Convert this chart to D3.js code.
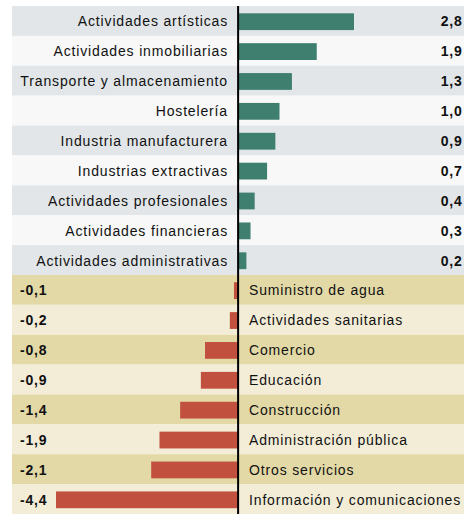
<!DOCTYPE html>
<html>
<head>
<meta charset="utf-8">
<script src="https://cdn.jsdelivr.net/npm/d3@7"></script>
<style>
  body { margin: 0; background: #fff; }
  text { font-family: "Liberation Sans", Arial, sans-serif; }
</style>
</head>
<body>
<script>
// sectors, top to bottom
const categories = [
  'Actividades artísticas',
  'Actividades inmobiliarias',
  'Transporte y almacenamiento',
  'Hostelería',
  'Industria manufacturera',
  'Industrias extractivas',
  'Actividades profesionales',
  'Actividades financieras',
  'Actividades administrativas',
  'Suministro de agua',
  'Actividades sanitarias',
  'Comercio',
  'Educación',
  'Construcción',
  'Administración pública',
  'Otros servicios',
  'Información y comunicaciones'
];
const values = [2.8, 1.9, 1.3, 1.0, 0.9, 0.7, 0.4, 0.3, 0.2,
  -0.1, -0.2, -0.8, -0.9, -1.4, -1.9, -2.1, -4.4];
const valueLabels = ['2,8', '1,9', '1,3', '1,0', '0,9', '0,7', '0,4', '0,3', '0,2',
  '-0,1', '-0,2', '-0,8', '-0,9', '-1,4', '-1,9', '-2,1', '-4,4'];

const width = 464;
const height = 514;

const data = categories.map((c, i) => ({ name: c, value: values[i], label: valueLabels[i], i: i }));

const svg = d3.select('body').append('svg')
  .attr('width', width)
  .attr('height', height);

const x = d3.scaleLinear()
  .domain([d3.min(values), d3.max(values)])
  .range([56, 354]);

const y = d3.scaleBand()
  .domain(categories)
  .range([6, 514])
  .padding(0);

// row backgrounds, alternating
function rowColor(d) {
  if (d.value >= 0) return d.i % 2 === 0 ? '#e2e6e8' : '#f7f8f7';
  return d.i % 2 === 1 ? '#e3d9a6' : '#f3edd8';
}

svg.selectAll('.row')
  .data(data)
  .enter().append('rect')
  .attr('class', 'row')
  .attr('x', 12)
  .attr('y', d => y(d.name))
  .attr('width', width - 12)
  .attr('height', y.bandwidth())
  .attr('fill', rowColor);

// bars
svg.selectAll('.bar')
  .data(data)
  .enter().append('rect')
  .attr('class', 'bar')
  .attr('x', d => x(Math.min(0, d.value)))
  .attr('y', d => y(d.name) + 7.3)
  .attr('width', d => Math.abs(x(d.value) - x(0)))
  .attr('height', 16.8)
  .attr('fill', d => d.value >= 0 ? '#3e7f6f' : '#c1513e');

// sector names
svg.selectAll('.name')
  .data(data)
  .enter().append('text')
  .attr('class', 'name')
  .attr('x', d => d.value >= 0 ? 228 : 249)
  .attr('y', d => y(d.name) + y.bandwidth() / 2 + 5.5)
  .attr('text-anchor', d => d.value >= 0 ? 'end' : 'start')
  .style('font-size', '14px')
  .style('letter-spacing', '0.85px')
  .attr('fill', '#111')
  .text(d => d.name);

// value labels
svg.selectAll('.val')
  .data(data)
  .enter().append('text')
  .attr('class', 'val')
  .attr('x', d => d.value >= 0 ? 462.5 : 20)
  .attr('y', d => y(d.name) + y.bandwidth() / 2 + 5.5)
  .attr('text-anchor', d => d.value >= 0 ? 'end' : 'start')
  .style('font-size', '14px')
  .style('font-weight', 'bold')
  .style('letter-spacing', '0.8px')
  .attr('fill', '#111')
  .text(d => d.label);

// zero line
svg.append('line')
  .attr('x1', x(0))
  .attr('x2', x(0))
  .attr('y1', 6)
  .attr('y2', height)
  .attr('stroke', '#000')
  .attr('stroke-width', 2);
</script>
</body>
</html>
